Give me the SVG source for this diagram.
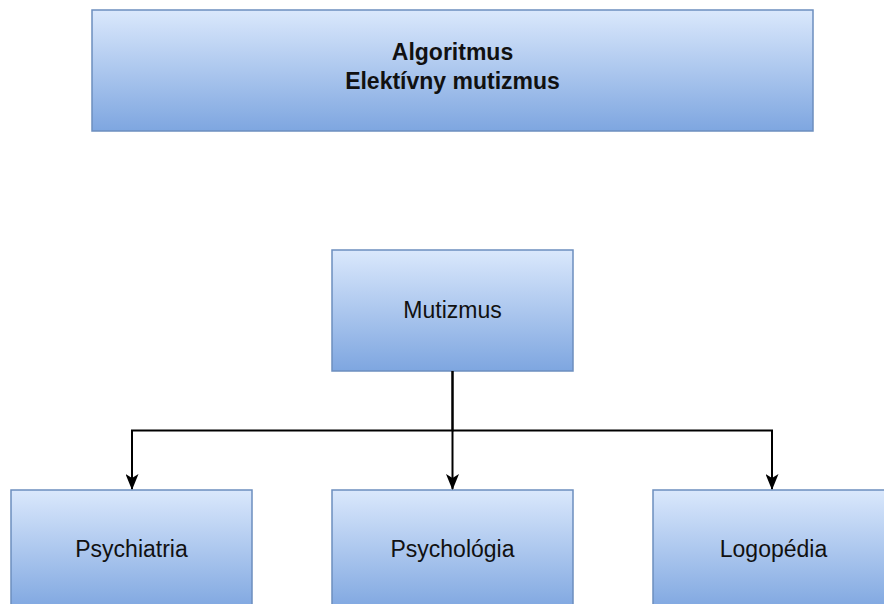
<svg xmlns="http://www.w3.org/2000/svg" width="884" height="604" viewBox="0 0 884 604">
  <defs>
    <linearGradient id="g" x1="0" y1="0" x2="0" y2="1">
      <stop offset="0" stop-color="#dae8fc"/>
      <stop offset="1" stop-color="#7ea6e0"/>
    </linearGradient>
    <marker id="arr" markerWidth="16" markerHeight="13" refX="15" refY="6.5" orient="auto" markerUnits="userSpaceOnUse" viewBox="0 0 16 13">
      <path d="M0,0 L16,6.5 L0,13 L4,6.5 Z" fill="#000"/>
    </marker>
  </defs>
  <style>
    .box { fill: url(#g); stroke: #6c8ebf; stroke-width: 1.5; }
    .t { font-family: "Liberation Sans", Arial, sans-serif; font-size: 23px; fill: #111; text-anchor: middle; }
    .b { font-weight: bold; }
    .c { fill: none; stroke: #000; stroke-width: 2; }
  </style>
  <rect width="884" height="604" fill="#fff"/>
  <g id="title">
    <rect class="box" x="92" y="10" width="721" height="121"/>
    <text class="t b" x="452.5" y="60">Algoritmus</text>
    <text class="t b" x="452.5" y="89">Elektívny mutizmus</text>
  </g>
  <g id="mutizmus">
    <rect class="box" x="332" y="250" width="241" height="121"/>
    <text class="t" x="452.5" y="318">Mutizmus</text>
  </g>
  <g id="psychiatria">
    <rect class="box" x="11" y="490" width="241" height="121"/>
    <text class="t" x="131.5" y="557">Psychiatria</text>
  </g>
  <g id="psychologia">
    <rect class="box" x="332" y="490" width="241" height="121"/>
    <text class="t" x="452.5" y="557">Psychológia</text>
  </g>
  <g id="logopedia">
    <rect class="box" x="653" y="490" width="241" height="121"/>
    <text class="t" x="773.5" y="557">Logopédia</text>
  </g>
  <g id="connectors">
    <path class="c" d="M452.5,371 L452.5,430.5 L132,430.5 L132,489" marker-end="url(#arr)"/>
    <path class="c" d="M452.5,371 L452.5,489" marker-end="url(#arr)"/>
    <path class="c" d="M452.5,430.5 L772,430.5 L772,489" marker-end="url(#arr)"/>
  </g>
</svg>
